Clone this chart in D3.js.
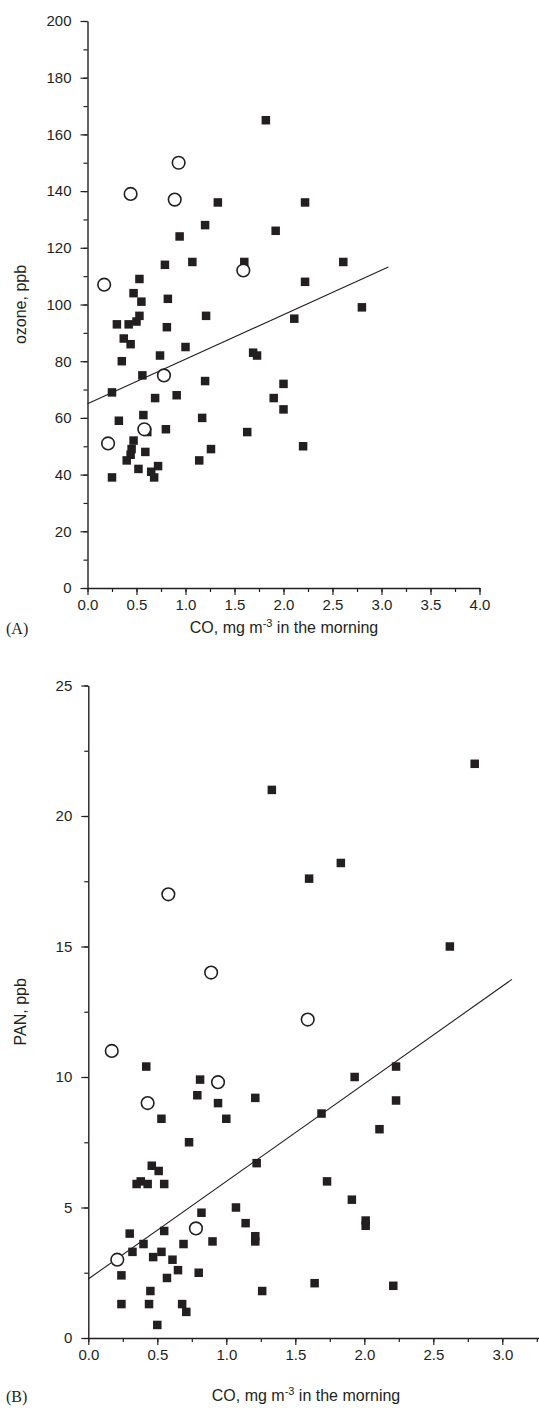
<!DOCTYPE html>
<html><head><meta charset="utf-8">
<script src="https://cdn.jsdelivr.net/npm/d3@7"></script>
<style>
body{margin:0;background:#fff;}
text{font-family:"Liberation Sans",Arial,sans-serif;fill:#231f20;}
</style></head>
<body>
<svg id="chart" width="539" height="1408"></svg>
<script>
// Panel A: ozone vs CO
const ozoneSquaresCO = [1.82,1.33,2.22,1.20,1.92,0.94,0.79,1.07,1.60,2.61,0.53,2.22,0.47,0.82,0.55,2.80,1.21,0.53,2.11,0.50,0.30,0.42,0.81,0.37,0.44,1.00,1.69,1.73,0.74,0.35,0.56,1.20,2.00,0.25,0.91,0.69,1.90,2.00,0.57,1.17,0.32,0.80,0.61,1.63,0.47,2.20,0.45,1.26,0.59,0.44,0.40,1.14,0.72,0.52,0.65,0.68,0.25];
const ozoneSquaresVal = [165,136,136,128,126,124,114,115,115,115,109,108,104,102,101,99,96,96,95,94,93,93,92,88,86,85,83,82,82,80,75,73,72,69,68,67,67,63,61,60,59,56,55,55,52,50,49,49,48,47,45,45,43,42,41,39,39];
const ozoneCirclesCO = [0.93,0.44,0.89,1.59,0.17,0.78,0.58,0.21];
const ozoneCirclesVal = [150,139,137,112,107,75,56,51];
const ozoneFitCO = [0, 3.07];
const ozoneFitVal = [65, 113.2];
const ozoneXTicks = [0,0.5,1,1.5,2,2.5,3,3.5,4];
const ozoneYTicks = [0,20,40,60,80,100,120,140,160,180,200];

// Panel B: PAN vs CO
const panSquaresCO = [1.33,1.83,1.60,2.80,2.62,0.42,2.23,0.81,1.93,0.79,1.21,2.23,0.94,0.53,1.00,2.11,1.69,0.73,1.22,0.46,0.51,1.73,0.35,0.38,0.43,0.55,1.91,1.07,0.82,2.01,2.01,1.14,0.55,0.30,1.21,1.21,0.40,0.69,0.90,0.32,0.53,0.47,0.61,0.65,0.80,0.57,0.24,1.26,0.45,0.24,0.44,0.68,0.71,0.50,1.64,2.21];
const panSquaresVal = [21.0,18.2,17.6,22.0,15.0,10.4,10.4,9.9,10.0,9.3,9.2,9.1,9.0,8.4,8.4,8.0,8.6,7.5,6.7,6.6,6.4,6.0,5.9,6.0,5.9,5.9,5.3,5.0,4.8,4.5,4.3,4.4,4.1,4.0,3.9,3.7,3.6,3.6,3.7,3.3,3.3,3.1,3.0,2.6,2.5,2.3,2.4,1.8,1.8,1.3,1.3,1.3,1.0,0.5,2.1,2.0];
const panCirclesCO = [0.58,0.89,0.17,1.59,0.94,0.43,0.78,0.21];
const panCirclesVal = [17.0,14.0,11.0,12.2,9.8,9.0,4.2,3.0];
const panFitCO = [0, 3.07];
const panFitVal = [2.26, 13.74];
const panXTicks = [0,0.5,1,1.5,2,2.5,3];
const panYTicks = [0,5,10,15,20,25];

const xTitle = "CO, mg m";
const xTitleSup = "-3";
const xTitleEnd = " in the morning";

const svg = d3.select("#chart");
const ink = "#231f20";

function panel(cfg){
  const g = svg.append("g");
  const x = d3.scaleLinear().domain(cfg.xDomain).range(cfg.xRange);
  const y = d3.scaleLinear().domain(cfg.yDomain).range(cfg.yRange);
  const y0 = cfg.yRange[0], x0 = cfg.xRange[0];

  const xMinor = d3.range(cfg.xDomain[0], cfg.xDomain[1]+1e-9, cfg.xMinorStep);
  const yMinor = d3.range(cfg.yDomain[0], cfg.yDomain[1]+1e-9, cfg.yMinorStep);
  g.append("g").attr("transform",`translate(0,${y0})`)
    .call(d3.axisBottom(x).tickValues(xMinor).tickSize(4).tickFormat(""))
    .call(a=>a.select(".domain").remove());
  g.append("g").attr("transform",`translate(${x0},0)`)
    .call(d3.axisLeft(y).tickValues(yMinor).tickSize(4).tickFormat(""))
    .call(a=>a.select(".domain").remove());

  const xa = g.append("g").attr("transform",`translate(0,${y0})`)
    .call(d3.axisBottom(x).tickValues(cfg.xTicks).tickSize(7).tickSizeOuter(0).tickPadding(4).tickFormat(d3.format(".1f")));
  const ya = g.append("g").attr("transform",`translate(${x0},0)`)
    .call(d3.axisLeft(y).tickValues(cfg.yTicks).tickSize(7).tickSizeOuter(0).tickPadding(9).tickFormat(d3.format("d")));
  [xa,ya].forEach(a=>{
    a.selectAll("text").style("font-size","15px").attr("fill",ink).style("font-family","Liberation Sans, Arial, sans-serif");
    a.select(".domain").attr("stroke",ink).attr("stroke-width",1.4);
  });
  g.selectAll("g.tick line").attr("stroke",ink).attr("stroke-width",1.2);

  g.append("line")
    .attr("x1",x(cfg.fitX[0])).attr("y1",y(cfg.fitY[0]))
    .attr("x2",x(cfg.fitX[1])).attr("y2",y(cfg.fitY[1]))
    .attr("stroke",ink).attr("stroke-width",1.1);

  const s = 8.5;
  g.selectAll("rect.sq").data(cfg.sqX.map((v,i)=>[v,cfg.sqY[i]])).join("rect")
    .attr("class","sq")
    .attr("x",d=>x(d[0])-s/2).attr("y",d=>y(d[1])-s/2)
    .attr("width",s).attr("height",s).attr("fill",ink);
  g.selectAll("circle.ci").data(cfg.ciX.map((v,i)=>[v,cfg.ciY[i]])).join("circle")
    .attr("class","ci")
    .attr("cx",d=>x(d[0])).attr("cy",d=>y(d[1])).attr("r",6.3)
    .attr("fill","#fff").attr("stroke",ink).attr("stroke-width",1.6);

  g.append("text").attr("transform",`translate(${cfg.yTitleX},${(cfg.yRange[0]+cfg.yRange[1])/2}) rotate(-90)`)
    .attr("text-anchor","middle").style("font-size","16px").text(cfg.yTitle);
  const t = g.append("text").attr("x",cfg.xTitleX).attr("y",cfg.xTitleY)
    .attr("text-anchor","middle").style("font-size","16px");
  t.append("tspan").text(xTitle);
  t.append("tspan").attr("dy",-6).style("font-size","11px").text(xTitleSup);
  t.append("tspan").attr("dy",6).text(xTitleEnd);
  g.append("text").attr("x",6).attr("y",cfg.xTitleY+1)
    .style("font-family","Liberation Serif, Times New Roman, serif").style("font-size","16px").text(cfg.letter);
}

panel({
  xDomain:[0,4], xRange:[87.5,479.5], yDomain:[0,200], yRange:[588,21],
  xMinorStep:0.25, yMinorStep:10, xTicks:ozoneXTicks, yTicks:ozoneYTicks,
  sqX:ozoneSquaresCO, sqY:ozoneSquaresVal, ciX:ozoneCirclesCO, ciY:ozoneCirclesVal,
  fitX:ozoneFitCO, fitY:ozoneFitVal,
  yTitle:"ozone, ppb", yTitleX:26, xTitleX:284, xTitleY:633, letter:"(A)"
});
panel({
  xDomain:[0,3.5], xRange:[88.3,571.3], yDomain:[0,25], yRange:[1338,685.5],
  xMinorStep:0.25, yMinorStep:2.5, xTicks:panXTicks, yTicks:panYTicks,
  sqX:panSquaresCO, sqY:panSquaresVal, ciX:panCirclesCO, ciY:panCirclesVal,
  fitX:panFitCO, fitY:panFitVal,
  yTitle:"PAN, ppb", yTitleX:26, xTitleX:306, xTitleY:1401, letter:"(B)"
});
</script>
</body></html>
